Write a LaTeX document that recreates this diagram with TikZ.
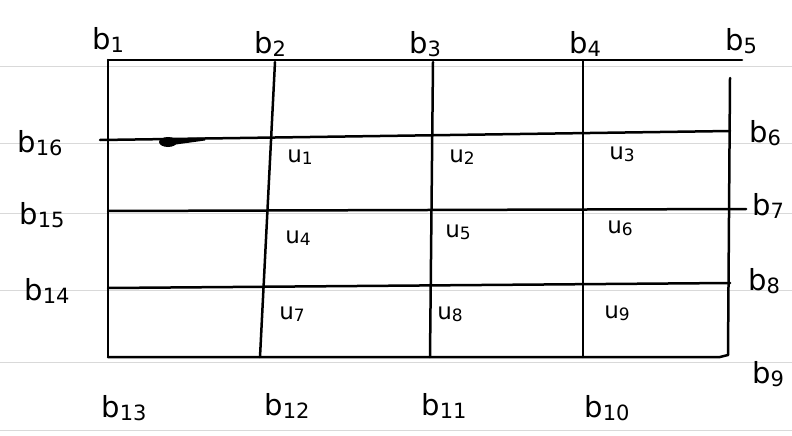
\documentclass[tikz,border=0pt]{standalone}
\usepackage{fontspec}
\setmainfont{DejaVu Sans}
\newcommand{\blab}[1]{b\raisebox{-3pt}{\fontsize{21}{22}\selectfont #1}}
\newcommand{\ulab}[1]{u\raisebox{-2pt}{\fontsize{17}{18}\selectfont #1}}
\begin{document}
\begin{tikzpicture}[x=1pt,y=-1pt,
  ink/.style={line width=2.5pt,black,line cap=round},
  paper/.style={line width=0.6pt,gray!30},
  bstyle/.style={font=\fontsize{29}{31}\selectfont,inner sep=0pt},
  ustyle/.style={font=\fontsize{23}{25}\selectfont,inner sep=0pt}]
\useasboundingbox (0,0) rectangle (792,436);
% faint ruled paper lines
\foreach \yy in {66,143,213,290,362,430}
  \draw[paper] (0,\yy) -- (792,\yy);
% corner and grid coordinates
\coordinate (c1) at (108,60);
\coordinate (c2) at (275,62);
\coordinate (c3) at (433,62);
\coordinate (c4) at (583,61);
\coordinate (c5) at (742,60);
\coordinate (r5) at (730,78);
\coordinate (c13) at (108,357);
\coordinate (c12) at (260,357);
\coordinate (c11) at (430,357);
\coordinate (c10) at (583,357);
\coordinate (c9) at (728,355);
\coordinate (l16) at (100,140);
\coordinate (l15) at (108,211);
\coordinate (l14) at (108,288);
\coordinate (r6) at (730,131);
\coordinate (r7) at (746,209);
\coordinate (r8) at (730,283);
\coordinate (cb) at (720,357);
% frame
\draw[ink] (c1) -- (c5);
\draw[ink] (c1) -- (c13);
\draw[ink] (c13) -- (cb) -- (c9);
\draw[ink] (r5) -- (c9);
% vertical lines
\draw[ink] (c2) -- (c12);
\draw[ink] (c3) -- (c11);
\draw[ink] (c4) -- (c10);
% horizontal lines
\draw[ink] (l16) -- (r6);
\draw[ink] (l15) -- (r7);
\draw[ink] (l14) -- (r8);
% ink blob
\fill (168,142) ellipse (9pt and 5pt);
\fill (172,138.5) -- (205,137.5) -- (205,140.5) -- (172,145) -- cycle;
% top labels
\node[bstyle] (b1) at (108,40) {\blab{1}};
\node[bstyle] (b2) at (270,44) {\blab{2}};
\node[bstyle] (b3) at (425,44) {\blab{3}};
\node[bstyle] (b4) at (585,44) {\blab{4}};
\node[bstyle] (b5) at (741,41) {\blab{5}};
% left labels
\node[bstyle] (b16) at (40,143) {\blab{16}};
\node[bstyle] (b15) at (42,215) {\blab{15}};
\node[bstyle] (b14) at (47,291) {\blab{14}};
% right labels
\node[bstyle] (b6) at (765,133) {\blab{6}};
\node[bstyle] (b7) at (768,206) {\blab{7}};
\node[bstyle] (b8) at (764,281) {\blab{8}};
\node[bstyle] (b9) at (768,374) {\blab{9}};
% bottom labels
\node[bstyle] (b13) at (124,408) {\blab{13}};
\node[bstyle] (b12) at (287,406) {\blab{12}};
\node[bstyle] (b11) at (444,406) {\blab{11}};
\node[bstyle] (b10) at (607,408) {\blab{10}};
% cell labels
\node[ustyle] (u1) at (300,157) {\ulab{1}};
\node[ustyle] (u2) at (462,157) {\ulab{2}};
\node[ustyle] (u3) at (622,154) {\ulab{3}};
\node[ustyle] (u4) at (298,238) {\ulab{4}};
\node[ustyle] (u5) at (458,232) {\ulab{5}};
\node[ustyle] (u6) at (620,228) {\ulab{6}};
\node[ustyle] (u7) at (292,314) {\ulab{7}};
\node[ustyle] (u8) at (450,314) {\ulab{8}};
\node[ustyle] (u9) at (617,313) {\ulab{9}};
\end{tikzpicture}
\end{document}
